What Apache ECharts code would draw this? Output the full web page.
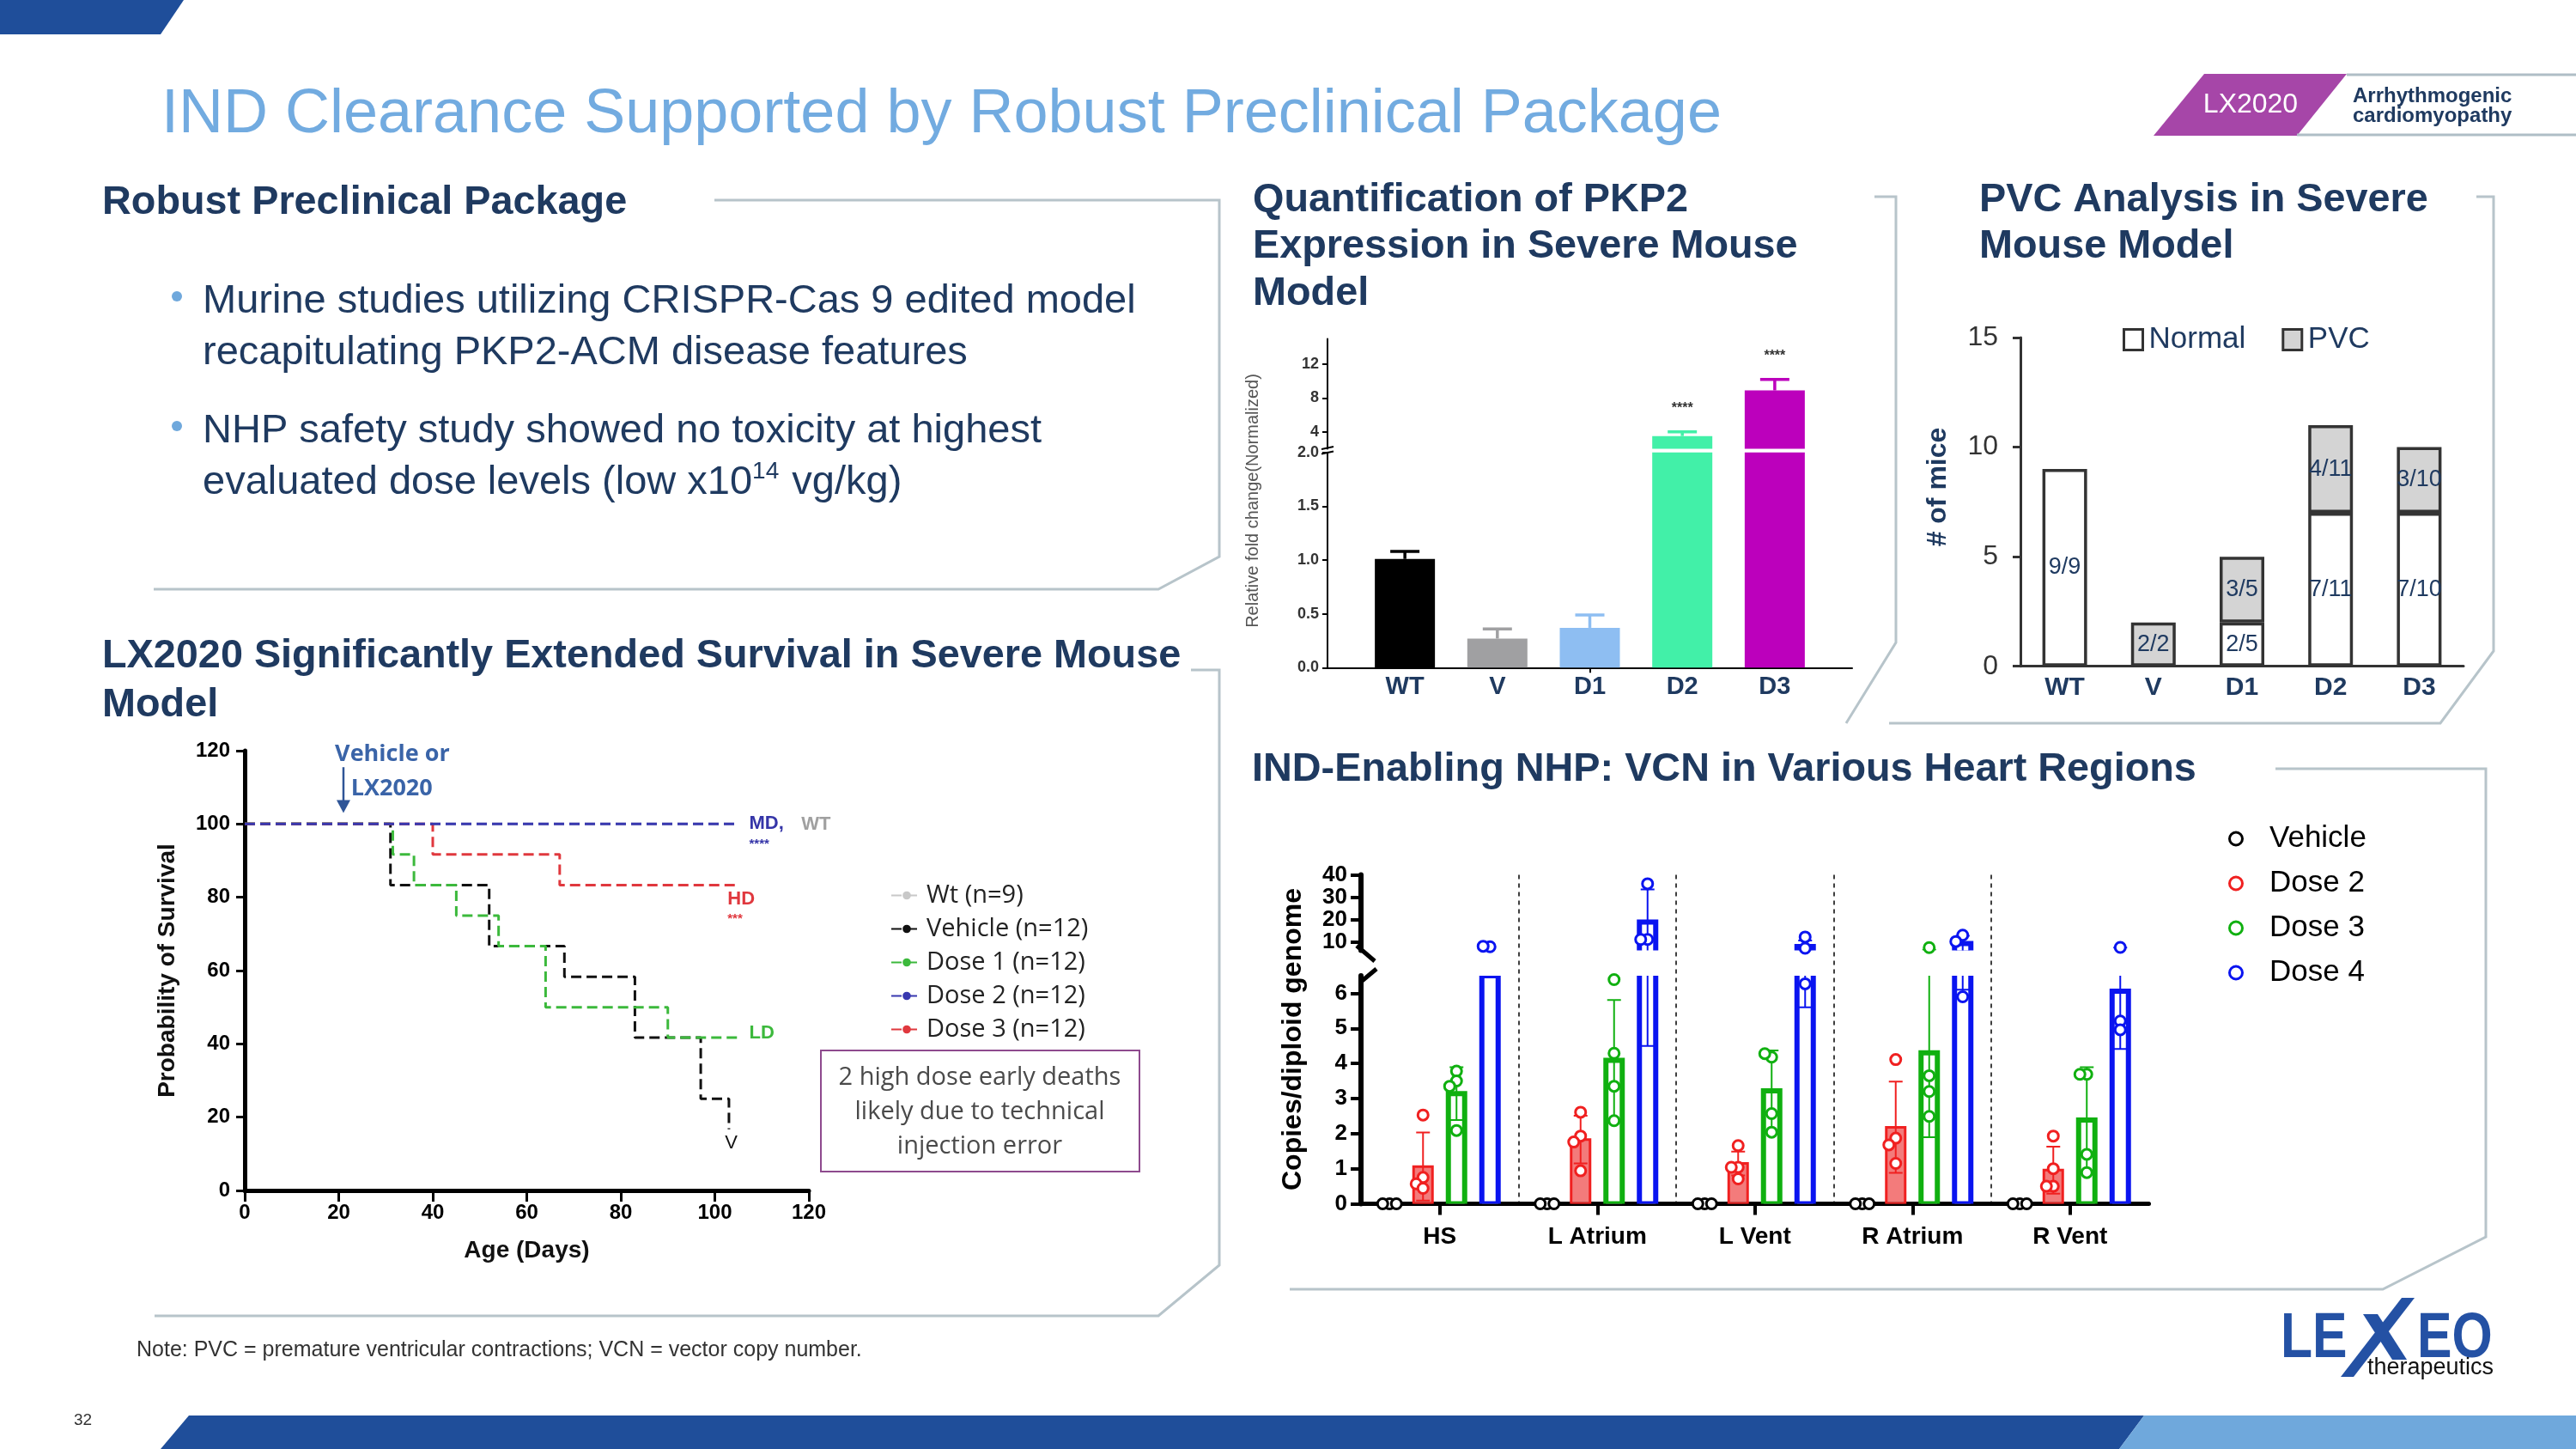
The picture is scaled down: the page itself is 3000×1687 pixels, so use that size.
<!DOCTYPE html>
<html>
<head>
<meta charset="utf-8">
<script src="https://cdn.jsdelivr.net/npm/echarts@6/dist/echarts.min.js"></script>
<style>
  html, body { margin: 0; padding: 0; background: #fff; }
  #main { width: 3000px; height: 1687px; }
</style>
</head>
<body>
<div id="main"></div>
<script>
// ---------------- data ----------------

// PKP2 expression, relative fold change (mean, upper error)
const pkpGroups = ['WT', 'V', 'D1', 'D2', 'D3']
const pkpMean = [1.01, 0.27, 0.37, 3.5, 8.9]
const pkpErr = [0.07, 0.09, 0.12, 0.5, 1.3]
const pkpStars = ['', '', '', '****', '****']
const pkpHighTicks = [4, 8, 12]

// PVC analysis, # of mice
const pvcGroups = ['WT', 'V', 'D1', 'D2', 'D3']
const pvcNormal = [9, 0, 2, 7, 7]
const pvcPVC = [0, 2, 3, 4, 3]

// survival steps, [age in days, probability of survival %]
const survNames = ['Wt (n=9)', 'Vehicle (n=12)', 'Dose 1 (n=12)', 'Dose 2 (n=12)', 'Dose 3 (n=12)']
const survWt = [[0, 100], [105, 100]]
const survVehicle = [[0, 100], [31, 83.3], [52, 66.7], [68, 58.3], [83, 41.7], [97, 25], [103, 16.7]]
const survDose1 = [[0, 100], [31.5, 91.7], [36, 83.3], [45, 75], [54, 66.7], [64, 50], [90, 41.7], [105, 41.7]]
const survDose2 = [[0, 100], [105, 100]]
const survDose3 = [[0, 100], [40, 91.7], [67, 83.3], [105, 83.3]]

// NHP vector copy number, copies/diploid genome
const vcnRegions = ['HS', 'L Atrium', 'L Vent', 'R Atrium', 'R Vent']
const vcnDoses = ['Vehicle', 'Dose 2', 'Dose 3', 'Dose 4']
const vcnMean = [
  [0, 0, 0, 0, 0],
  [1.06, 1.83, 1.15, 2.18, 0.96],
  [3.14, 4.09, 3.22, 4.3, 2.39],
  [6.5, 19, 8.2, 9.5, 6.06]
]
const vcnSd = [
  [0, 0, 0, 0, 0],
  [0.97, 0.68, 0.34, 1.3, 0.67],
  [0.75, 1.72, 1.15, 2.4, 1.5],
  [0, 14.5, 2.6, 3.4, 1.65]
]
const vcnDots = [
  [[0, 0, 0], [0, 0, 0], [0, 0, 0], [0, 0, 0], [0, 0, 0]],
  [[2.53, 0.75, 0.57, 0.44], [2.61, 1.93, 1.76, 0.94], [1.66, 1.04, 1.04, 0.71], [4.11, 1.87, 1.68, 1.15], [1.93, 1.0, 0.5, 0.5]],
  [[3.78, 3.5, 3.35, 2.09], [6.39, 4.29, 3.35, 2.37], [4.18, 4.28, 2.57, 2.04], [7.7, 3.65, 3.2, 2.49], [3.69, 3.69, 1.41, 0.89]],
  [[8.1, 8.3], [36, 11.3, 11.3], [12.4, 7.4, 6.27], [13.2, 10.4, 5.9], [7.8, 5.21, 4.96]]
]
const vcnLowTicks = [0, 1, 2, 3, 4, 5, 6]
const vcnHighTicks = [10, 20, 30, 40]

// ---------------- styles ----------------
const NAVY = '#1F3A60'
const FONT = 'Liberation Sans'
const SOFT = 'Open Sans'
const FRAME = '#B7C4CA'
const pkpColors = ['#000000', '#A0A0A2', '#8EBEF2', '#42F0A8', '#BC00BC']
const survColors = ['#C8C8C8', '#111111', '#3CB93C', '#3838B0', '#E0383E']
const vcnColors = ['#000000', '#F02020', '#10B010', '#0A14F0']
const vcnFill = ['#fff', 'rgba(240,90,90,0.8)', '#fff', '#fff']
const vcnBarLine = [3, 3, 6, 6]

// axis split points (broken axes drawn as two grids)
const PKP_BREAK = 2, PKP_TOP = 15
const VCN_BREAK = 6.5, VCN_TOP = 40

const chart = echarts.init(document.getElementById('main'))

// pixel position of a value, extrapolated linearly from the two ends of the axis
function yAt(api, i, v, lo, hi) {
  const p0 = api.coord([i, lo]), p1 = api.coord([i, hi])
  return [p0[0], p0[1] + (v - lo) / (hi - lo) * (p1[1] - p0[1])]
}

// error bars + significance stars for the PKP2 bars
function pkpErrRender(lo, hi) {
  return function (params, api) {
    const i = api.value(0), m = api.value(1), e = api.value(2)
    if (!(m > lo && m <= hi)) return null
    const a = yAt(api, i, m, lo, hi), b = yAt(api, i, m + e, lo, hi)
    const color = pkpColors[i]
    const kids = [
      { type: 'line', shape: { x1: a[0], y1: a[1], x2: b[0], y2: b[1] }, style: { stroke: color, lineWidth: 3.5 } },
      { type: 'line', shape: { x1: b[0] - 17, y1: b[1], x2: b[0] + 17, y2: b[1] }, style: { stroke: color, lineWidth: 3.5 } }
    ]
    if (pkpStars[i]) {
      kids.push({ type: 'text', x: b[0], y: b[1] - 27,
        style: { text: pkpStars[i], fill: '#333', fontSize: 16, fontWeight: 'bold', fontFamily: FONT,
          align: 'center', verticalAlign: 'middle', textAlign: 'center', textVerticalAlign: 'middle' } })
    }
    return { type: 'group', children: kids }
  }
}

// bars, error bars and individual animals for one dose of the VCN chart
function vcnRender(d, lo, hi) {
  return function (params, api) {
    const i = api.value(0), m = api.value(1), s = api.value(2)
    const cs = params.coordSys
    const zero = yAt(api, i, 0, lo, hi)
    const cx = zero[0] + (d - 1.5) * 39
    const color = vcnColors[d]
    const bars = []
    if (m > 0 && m > lo) {
      const top = yAt(api, i, m, lo, hi)[1]
      const lw = vcnBarLine[d]
      bars.push({ type: 'rect',
        shape: { x: cx - (25 - lw) / 2, y: top, width: 25 - lw, height: zero[1] - top },
        style: { fill: vcnFill[d], stroke: color, lineWidth: lw } })
    }
    if (s > 0) {
      const yHi = yAt(api, i, m + s, lo, hi)[1], yLo = yAt(api, i, m - s, lo, hi)[1]
      bars.push({ type: 'line', shape: { x1: cx, y1: yLo, x2: cx, y2: yHi }, style: { stroke: color, lineWidth: 2 } })
      bars.push({ type: 'line', shape: { x1: cx - 8, y1: yHi, x2: cx + 8, y2: yHi }, style: { stroke: color, lineWidth: 2 } })
      bars.push({ type: 'line', shape: { x1: cx - 8, y1: yLo, x2: cx + 8, y2: yLo }, style: { stroke: color, lineWidth: 2 } })
    }
    // animals: each one drawn only in the segment its value belongs to, beeswarm-style
    const dots = []
    const placed = []
    vcnDots[d][i].forEach(v => {
      if (lo > 0 ? v < lo : v > hi) return
      const y = yAt(api, i, v, lo, hi)[1]
      let dx = 0
      for (const off of [0, -8, 8, -15, 15]) {
        if (placed.every(p => Math.hypot(p[0] - off, p[1] - y) >= 8)) { dx = off; break }
      }
      placed.push([dx, y])
      dots.push({ type: 'circle', shape: { cx: cx + dx, cy: y, r: 6 },
        style: { fill: '#fff', stroke: color, lineWidth: 3 } })
    })
    return { type: 'group', children: [
      { type: 'group', children: bars,
        clipPath: { type: 'rect', shape: { x: cs.x - 40, y: cs.y, width: cs.width + 80, height: cs.height } } },
      ...dots
    ] }
  }
}

function survLine(name, data, color) {
  return { name, type: 'line', xAxisIndex: 3, yAxisIndex: 3, data, step: 'end', symbol: 'none', silent: true,
    lineStyle: { color, width: 3, type: [12, 6] }, itemStyle: { color } }
}

const pkpBarData = pkpMean.map((v, i) => ({ value: [i, v], itemStyle: { color: pkpColors[i] } }))
const pkpBarUpper = pkpBarData.filter(d => d.value[1] > PKP_BREAK)
const pkpErrData = pkpMean.map((v, i) => [i, v, pkpErr[i]])
const pvcLabel = (arr) => p => arr[p.dataIndex] + '/' + (pvcNormal[p.dataIndex] + pvcPVC[p.dataIndex])

const vcnSeries = []
vcnDoses.forEach((name, d) => {
  const data = vcnMean[d].map((m, i) => [i, m, vcnSd[d][i]])
  vcnSeries.push({ name, type: 'custom', xAxisIndex: 4, yAxisIndex: 4, data, renderItem: vcnRender(d, 0, VCN_BREAK),
    itemStyle: { color: vcnColors[d] }, silent: true })
  vcnSeries.push({ name, type: 'custom', xAxisIndex: 5, yAxisIndex: 5, data, renderItem: vcnRender(d, VCN_BREAK, VCN_TOP),
    itemStyle: { color: vcnColors[d] }, silent: true })
})

const blackAxis = (w) => ({ show: true, onZero: false, lineStyle: { color: '#000', width: w } })
const noSplit = { show: false }

const option = {
  animation: false,
  textStyle: { fontFamily: FONT },
  grid: [
    { left: 1546, top: 526.7, width: 611, height: 250.6 },   // 0 PKP2 lower
    { left: 1546, top: 394.5, width: 611, height: 127.9 },   // 1 PKP2 upper
    { left: 2353, top: 393, width: 516, height: 382.7 },     // 2 PVC
    { left: 285, top: 874, width: 657, height: 512 },        // 3 survival
    { left: 1585, top: 1136, width: 917.5, height: 265.5 },  // 4 VCN lower
    { left: 1585, top: 1018.4, width: 917.5, height: 88 },   // 5 VCN upper
    { left: 1585, top: 1018.4, width: 917.5, height: 383.1 } // 6 VCN separators
  ].map(g => Object.assign({ containLabel: false, outerBoundsMode: 'none' }, g)),
  legend: [
    { data: survNames, orient: 'vertical', left: 1032, top: 1023, itemWidth: 36, itemHeight: 12, itemGap: 10,
      selectedMode: false, textStyle: { fontFamily: SOFT, fontSize: 29, color: '#222' } },
    { data: ['Normal', 'PVC'], left: 2467, top: 373, itemWidth: 22, itemHeight: 24, itemGap: 42, icon: 'rect',
      selectedMode: false, itemStyle: { borderColor: '#333', borderWidth: 3 },
      textStyle: { fontSize: 35, color: NAVY, padding: [0, 0, 0, 2] } },
    { data: vcnDoses.map((n, d) => ({ name: n, icon: 'circle', itemStyle: { color: '#fff', borderColor: vcnColors[d], borderWidth: 3 } })),
      orient: 'vertical', left: 2590, top: 954, itemWidth: 68, itemHeight: 15, itemGap: 17,
      selectedMode: false, textStyle: { fontSize: 35, color: '#000' } }
  ],
  xAxis: [
    { type: 'value', gridIndex: 0, min: -0.837, max: 4.837, splitLine: noSplit, axisLine: blackAxis(2),
      axisTick: { show: true, customValues: [2], length: 6, lineStyle: { color: '#000', width: 2 } },
      axisLabel: { customValues: [0, 1, 2, 3, 4], formatter: v => pkpGroups[v], color: NAVY, fontSize: 29, fontWeight: 'bold', margin: 8 } },
    { type: 'value', gridIndex: 1, min: -0.837, max: 4.837, show: false, splitLine: noSplit },
    { type: 'category', gridIndex: 2, data: pvcGroups, axisLine: { show: true, onZero: false, lineStyle: { color: '#333', width: 3 } },
      axisTick: { show: false }, axisLabel: { color: NAVY, fontSize: 30, fontWeight: 'bold', margin: 10 } },
    { type: 'value', gridIndex: 3, min: 0, max: 120, interval: 20, splitLine: noSplit, axisLine: blackAxis(5),
      axisTick: { show: true, length: 13, lineStyle: { color: '#000', width: 3 } },
      axisLabel: { color: '#000', fontSize: 24, fontWeight: 'bold', margin: 14 },
      name: 'Age (Days)', nameLocation: 'middle', nameGap: 56,
      nameTextStyle: { fontSize: 28, fontWeight: 'bold', color: '#111' } },
    { type: 'category', gridIndex: 4, data: vcnRegions, axisLine: blackAxis(5),
      axisTick: { show: true, alignWithLabel: true, length: 13, lineStyle: { color: '#000', width: 4 } },
      axisLabel: { color: '#000', fontSize: 28, fontWeight: 'bold', margin: 25 } },
    { type: 'category', gridIndex: 5, data: vcnRegions, show: false, splitLine: noSplit },
    { type: 'category', gridIndex: 6, data: vcnRegions, axisLine: { show: false }, axisTick: { show: false },
      axisLabel: { show: false },
      splitLine: { show: true, showMinLine: false, showMaxLine: false, lineStyle: { color: '#000', width: 1.5, type: [5, 5] } } }
  ],
  yAxis: [
    { type: 'value', gridIndex: 0, min: 0, max: PKP_BREAK, interval: 0.5, splitLine: noSplit, axisLine: blackAxis(2),
      axisTick: { show: true, length: 6, lineStyle: { color: '#000', width: 2 } },
      axisLabel: { formatter: v => v.toFixed(1), color: '#333', fontSize: 18, fontWeight: 'bold', margin: 10 } },
    { type: 'value', gridIndex: 1, min: PKP_BREAK, max: PKP_TOP, splitLine: noSplit, axisLine: blackAxis(2),
      axisTick: { show: true, customValues: pkpHighTicks, length: 6, lineStyle: { color: '#000', width: 2 } },
      axisLabel: { customValues: pkpHighTicks, color: '#333', fontSize: 18, fontWeight: 'bold', margin: 10 } },
    { type: 'value', gridIndex: 2, min: 0, max: 15, interval: 5, splitLine: noSplit,
      axisLine: { show: true, onZero: false, lineStyle: { color: '#333', width: 3 } },
      axisTick: { show: true, inside: false, length: 9, lineStyle: { color: '#333', width: 3 } },
      axisLabel: { color: '#333', fontSize: 32, margin: 26 } },
    { type: 'value', gridIndex: 3, min: 0, max: 120, interval: 20, splitLine: noSplit, axisLine: blackAxis(5),
      axisTick: { show: true, length: 10, lineStyle: { color: '#000', width: 3 } },
      axisLabel: { color: '#000', fontSize: 24, fontWeight: 'bold', margin: 17 },
      name: 'Probability of Survival', nameLocation: 'middle', nameGap: 76, nameRotate: 90,
      nameTextStyle: { fontSize: 28, fontWeight: 'bold', color: '#111' } },
    { type: 'value', gridIndex: 4, min: 0, max: VCN_BREAK, splitLine: noSplit, axisLine: blackAxis(6),
      axisTick: { show: true, customValues: vcnLowTicks, length: 12, lineStyle: { color: '#000', width: 4 } },
      axisLabel: { customValues: vcnLowTicks, color: '#000', fontSize: 26, fontWeight: 'bold', margin: 16 } },
    { type: 'value', gridIndex: 5, min: VCN_BREAK, max: VCN_TOP, splitLine: noSplit, axisLine: blackAxis(6),
      axisTick: { show: true, customValues: vcnHighTicks, length: 12, lineStyle: { color: '#000', width: 4 } },
      axisLabel: { customValues: vcnHighTicks, color: '#000', fontSize: 26, fontWeight: 'bold', margin: 16 } },
    { type: 'value', gridIndex: 6, min: 0, max: 1, show: false, splitLine: noSplit }
  ],
  series: [
    // PKP2
    { type: 'bar', xAxisIndex: 0, yAxisIndex: 0, data: pkpBarData, barWidth: 70, silent: true },
    { type: 'bar', xAxisIndex: 1, yAxisIndex: 1, data: pkpBarUpper, barWidth: 70, silent: true },
    { type: 'custom', xAxisIndex: 0, yAxisIndex: 0, data: pkpErrData, renderItem: pkpErrRender(0, PKP_BREAK), silent: true },
    { type: 'custom', xAxisIndex: 1, yAxisIndex: 1, data: pkpErrData, renderItem: pkpErrRender(PKP_BREAK, PKP_TOP), silent: true },
    // PVC
    { name: 'Normal', type: 'bar', xAxisIndex: 2, yAxisIndex: 2, stack: 'mice', barWidth: 52, silent: true,
      data: pvcNormal.map(v => v || null),
      itemStyle: { color: '#fff', borderColor: '#333', borderWidth: 3.5 },
      label: { show: true, position: 'inside', formatter: pvcLabel(pvcNormal), fontSize: 27, color: NAVY } },
    { name: 'PVC', type: 'bar', xAxisIndex: 2, yAxisIndex: 2, stack: 'mice', barWidth: 52, silent: true,
      data: pvcPVC.map(v => v || null),
      itemStyle: { color: '#D4D4D4', borderColor: '#333', borderWidth: 3.5 },
      label: { show: true, position: 'inside', formatter: pvcLabel(pvcPVC), fontSize: 27, color: NAVY } },
    // survival
    survLine(survNames[0], survWt, survColors[0]),
    survLine(survNames[1], survVehicle, survColors[1]),
    survLine(survNames[2], survDose1, survColors[2]),
    survLine(survNames[4], survDose3, survColors[4]),
    survLine(survNames[3], survDose2, survColors[3]),
    // VCN
    ...vcnSeries
  ]
}

chart.setOption(option)

// ---------------- slide decoration ----------------
const measure = document.createElement('canvas').getContext('2d')
function textWidth(str, font) { measure.font = font; return measure.measureText(str).width }

function text(x, base, str, size, color, o = {}) {
  const align = o.align || 'left'
  return {
    type: 'text', x, y: base - 0.32 * size, rotation: o.rotation || 0, scaleX: o.scaleX || 1, silent: true,
    style: { text: str, fill: color, fontSize: size, fontFamily: o.family || FONT, fontWeight: o.weight || 'normal',
      align, verticalAlign: 'middle', textAlign: align, textVerticalAlign: 'middle' }
  }
}
function centerText(x, y, str, size, color, o = {}) {
  return {
    type: 'text', x, y, rotation: o.rotation || 0, silent: true,
    style: { text: str, fill: color, fontSize: size, fontFamily: o.family || FONT, fontWeight: o.weight || 'normal',
      align: o.align || 'center', verticalAlign: 'middle', textAlign: o.align || 'center', textVerticalAlign: 'middle' }
  }
}
const poly = (points, stroke, w) => ({ type: 'polyline', shape: { points }, style: { stroke, lineWidth: w, fill: null }, silent: true })
const fillPoly = (points, fill) => ({ type: 'polygon', shape: { points }, style: { fill }, silent: true })
const line = (x1, y1, x2, y2, stroke, w) => ({ type: 'line', shape: { x1, y1, x2, y2 }, style: { stroke, lineWidth: w }, silent: true })

const sp = (x, y) => chart.convertToPixel({ gridIndex: 3 }, [x, y])

const g = []
// bands
g.push(fillPoly([[0, 0], [214, 0], [187, 40], [0, 40]], '#1F4E9A'))
g.push(fillPoly([[220, 1648], [2497, 1648], [2468, 1687], [187, 1687]], '#1F4E9A'))
g.push(fillPoly([[2497, 1648], [3000, 1648], [3000, 1687], [2468, 1687]], '#6FA8DC'))

// title + badge
g.push(text(188, 157, 'IND Clearance Supported by Robust Preclinical Package', 72, '#72ABE0'))
g.push(fillPoly([[2567, 86], [2733, 86], [2675, 158], [2508, 158]], '#A646A8'))
g.push(centerText(2621, 122, 'LX2020', 32, '#fff'))
g.push(line(2733, 87, 3000, 87, '#AFBEC6', 3))
g.push(line(2675, 157, 3000, 157, '#AFBEC6', 3))
g.push(text(2740, 120, 'Arrhythmogenic', 24, NAVY, { weight: 'bold' }))
g.push(text(2740, 143, 'cardiomyopathy', 24, NAVY, { weight: 'bold' }))

// section headers
const headers = [
  [119, 251, 'Robust Preclinical Package'],
  [1459, 248, 'Quantification of PKP2'],
  [1459, 302, 'Expression in Severe Mouse'],
  [1459, 357, 'Model'],
  [2305, 248, 'PVC Analysis in Severe'],
  [2305, 302, 'Mouse Model'],
  [119, 779, 'LX2020 Significantly Extended Survival in Severe Mouse'],
  [119, 836, 'Model'],
  [1458, 911, 'IND-Enabling NHP: VCN in Various Heart Regions']
]
headers.forEach(h => g.push(text(h[0], h[1], h[2], 46.8, NAVY, { weight: 'bold' })))

// bullets
const bulletSize = 47
const bullets = [
  [366, 'Murine studies utilizing CRISPR-Cas 9 edited model', true],
  [426, 'recapitulating PKP2-ACM disease features', false],
  [517, 'NHP safety study showed no toxicity at highest', true],
  [577, 'evaluated dose levels (low x10', false]
]
bullets.forEach(b => {
  g.push(text(236, b[0], b[1], bulletSize, NAVY))
  if (b[2]) g.push({ type: 'circle', shape: { cx: 206, cy: b[0] - 21, r: 6 }, style: { fill: '#6FA8DC' }, silent: true })
})
const supX = 236 + textWidth('evaluated dose levels (low x10', bulletSize + 'px "' + FONT + '"')
g.push(text(supX, 558, '14', 28, NAVY))
g.push(text(supX + textWidth('14', '28px "' + FONT + '"') + 2, 577, ' vg/kg)', bulletSize, NAVY))

// frames
g.push(poly([[832, 233], [1420, 233], [1420, 648], [1349, 686], [179, 686]], FRAME, 3))
g.push(poly([[2183, 229], [2208, 229], [2208, 748], [2150, 842]], FRAME, 3))
g.push(poly([[2884, 229], [2904, 229], [2904, 758], [2842, 842], [2200, 842]], FRAME, 3))
g.push(poly([[1387, 780], [1420, 780], [1420, 1473], [1349, 1532], [180, 1532]], FRAME, 3))
g.push(poly([[2650, 895], [2895, 895], [2895, 1440], [2775, 1501], [1502, 1501]], FRAME, 3))

// PKP2 axis name and break
g.push(centerText(1459, 583, 'Relative fold change(Normalized)', 20, '#555', { rotation: Math.PI / 2 }))
g.push(line(1539, 523, 1553, 520, '#000', 2))
g.push(line(1539, 528.5, 1553, 525.5, '#000', 2))

// PVC axis name
g.push(centerText(2257, 567, '# of mice', 32, NAVY, { rotation: Math.PI / 2, weight: 'bold' }))

// VCN axis name and break
g.push(centerText(1506, 1210, 'Copies/diploid genome', 32, '#000', { rotation: Math.PI / 2, weight: 'bold' }))
g.push({ type: 'rect', shape: { x: 1580, y: 1107, width: 14, height: 28 }, style: { fill: '#fff' }, silent: true })
g.push(line(1580, 1101, 1601, 1119, '#000', 5))
g.push(line(1585, 1143, 1603, 1128, '#000', 5))

// survival annotations
const note = (x, y, str, size, color, weight, align) => {
  const p = sp(x, y)
  return centerText(p[0], p[1], str, size, color, { weight, align: align || 'left' })
}
g.push(note(107.3, 100.2, 'MD,', 22, '#3535A8', 'bold'))
g.push(note(107.3, 94.6, '****', 15, '#3535A8', 'bold'))
g.push(note(118.4, 99.8, 'WT', 22, '#A0A0A0', 'bold'))
g.push(note(102.7, 79.4, 'HD', 22, '#E0383E', 'bold'))
g.push(note(102.7, 74, '***', 15, '#E0383E', 'bold'))
g.push(note(107.3, 42.9, 'LD', 22, '#3CB93C', 'bold'))
g.push(note(103.5, 13, 'V', 22, '#111', 'normal', 'center'))
const va = sp(19.2, 119), vb = sp(22.6, 109.7)
g.push(centerText(va[0], va[1], 'Vehicle or', 27, '#3A64A8', { align: 'left', family: SOFT, weight: 'bold' }))
g.push(centerText(vb[0], vb[1], 'LX2020', 27, '#3A64A8', { align: 'left', family: SOFT, weight: 'bold' }))
const a1 = sp(21, 115.5), a2 = sp(21, 103)
g.push(line(a1[0], a1[1], a2[0], a2[1] - 12, '#2F5597', 2.5))
g.push(fillPoly([[a2[0] - 8, a2[1] - 15], [a2[0] + 8, a2[1] - 15], [a2[0], a2[1]]], '#2F5597'))

// injection note box
g.push({ type: 'rect', shape: { x: 956, y: 1223, width: 371, height: 141 }, style: { fill: '#fff', stroke: '#8E4A8E', lineWidth: 2 }, silent: true })
g.push(centerText(1141, 1255, '2 high dose early deaths', 29, '#4A4A4A', { family: SOFT }))
g.push(centerText(1141, 1295, 'likely due to technical', 29, '#4A4A4A', { family: SOFT }))
g.push(centerText(1141, 1335, 'injection error', 29, '#4A4A4A', { family: SOFT }))

// footer
g.push(text(159, 1580, 'Note: PVC = premature ventricular contractions; VCN = vector copy number.', 25, '#333'))
g.push(text(86, 1660, '32', 19, '#333'))

// logo
g.push(text(2656, 1583, 'LE', 74, '#2451A4', { weight: 'bold', scaleX: 0.82 }))
g.push(text(2815, 1583, 'EO', 74, '#2451A4', { weight: 'bold', scaleX: 0.82 }))
g.push(fillPoly([[2752, 1530], [2769, 1530], [2803, 1583], [2786, 1583]], '#2451A4'))
g.push(fillPoly([[2726, 1603], [2741, 1603], [2812, 1511], [2797, 1511]], '#2451A4'))
g.push(text(2757, 1601, 'therapeutics', 27, '#111'))

chart.setOption({ graphic: g })
</script>
</body>
</html>
